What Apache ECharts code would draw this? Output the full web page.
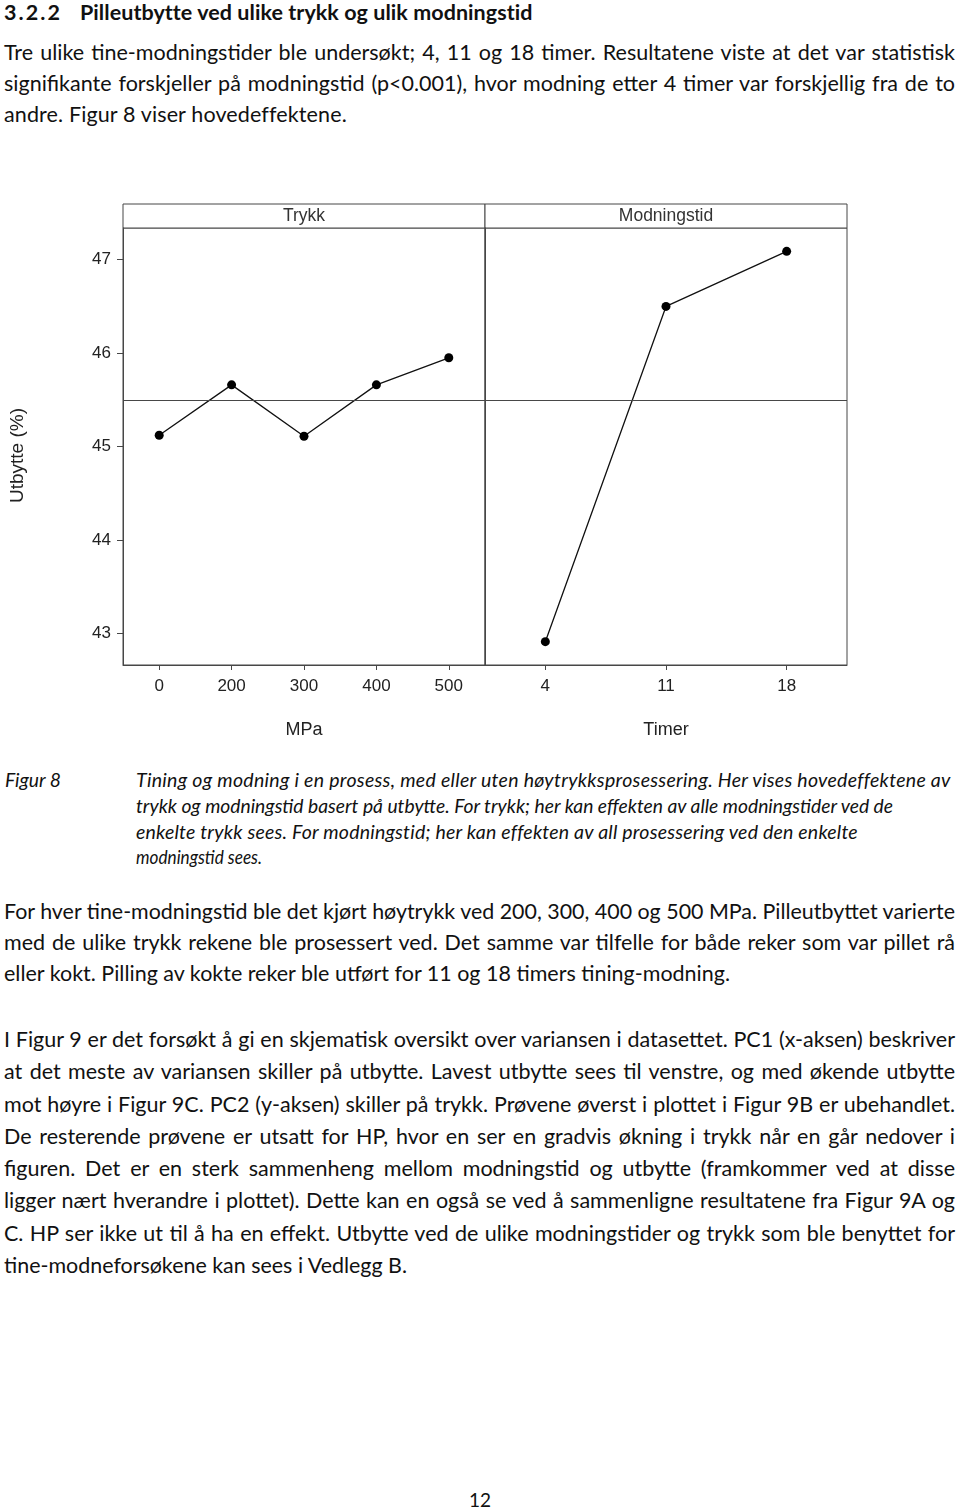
<!DOCTYPE html>
<html>
<head>
<meta charset="utf-8">
<script src="https://cdn.jsdelivr.net/npm/echarts@6/dist/echarts.min.js"></script>
<style>
  html, body { margin: 0; padding: 0; background: #fff; }
  body { width: 960px; height: 1509px; position: relative; overflow: hidden;
         font-family: "Lato", "Open Sans", sans-serif; color: #111; }
  .ln { position: absolute; white-space: nowrap; height: 30px; line-height: 30px; font-size: 21.5px; }
  .ln > span { white-space: nowrap; display: inline-block; transform-origin: 0 50%; }
  .cap { font-style: italic; font-size: 19.5px; height: 26px; line-height: 26px; }
  .hd { font-weight: bold; font-size: 21.5px; }
  #chart { position: absolute; left: 0; top: 190px; width: 870px; height: 560px; }
</style>
</head>
<body>
<!-- heading -->
<div class="ln hd" style="left:4px; top:-3px;" data-end="60"><span>3.2.2</span></div>
<div class="ln hd" style="left:80px; top:-3px;" data-end="532"><span>Pilleutbytte ved ulike trykk og ulik modningstid</span></div>

<!-- paragraph 1 -->
<div class="ln j" style="left:4px; top:37px;" data-end="955"><span>Tre ulike tine-modningstider ble undersøkt; 4, 11 og 18 timer. Resultatene viste at det var statistisk</span></div>
<div class="ln j" style="left:4px; top:68px;" data-end="955"><span>signifikante forskjeller på modningstid (p&lt;0.001), hvor modning etter 4 timer var forskjellig fra de to</span></div>
<div class="ln" style="left:4px; top:99px;" data-end="346"><span>andre. Figur 8 viser hovedeffektene.</span></div>

<div id="chart"></div>

<!-- caption -->
<div class="ln cap" style="left:5px; top:767px;" data-end="61"><span>Figur 8</span></div>
<div class="ln cap" style="left:136px; top:767px;" data-end="950"><span>Tining og modning i en prosess, med eller uten høytrykksprosessering. Her vises hovedeffektene av</span></div>
<div class="ln cap" style="left:136px; top:793px;" data-end="893"><span>trykk og modningstid basert på utbytte. For trykk; her kan effekten av alle modningstider ved de</span></div>
<div class="ln cap" style="left:136px; top:819px;" data-end="857"><span>enkelte trykk sees. For modningstid; her kan effekten av all prosessering ved den enkelte</span></div>
<div class="ln cap" style="left:136px; top:844px;" data-end="262"><span>modningstid sees.</span></div>

<!-- paragraph 2 -->
<div class="ln j" style="left:4px; top:896px;" data-end="955"><span>For hver tine-modningstid ble det kjørt høytrykk ved 200, 300, 400 og 500 MPa. Pilleutbyttet varierte</span></div>
<div class="ln j" style="left:4px; top:927px;" data-end="955"><span>med de ulike trykk rekene ble prosessert ved. Det samme var tilfelle for både reker som var pillet rå</span></div>
<div class="ln" style="left:4px; top:958px;" data-end="730"><span>eller kokt. Pilling av kokte reker ble utført for 11 og 18 timers tining-modning.</span></div>

<!-- paragraph 3 -->
<div class="ln j" style="left:4px; top:1024px;" data-end="955"><span>I Figur 9 er det forsøkt å gi en skjematisk oversikt over variansen i datasettet. PC1 (x-aksen) beskriver</span></div>
<div class="ln j" style="left:4px; top:1056px;" data-end="955"><span>at det meste av variansen skiller på utbytte. Lavest utbytte sees til venstre, og med økende utbytte</span></div>
<div class="ln j" style="left:4px; top:1089px;" data-end="955"><span>mot høyre i Figur 9C. PC2 (y-aksen) skiller på trykk. Prøvene øverst i plottet i Figur 9B er ubehandlet.</span></div>
<div class="ln j" style="left:4px; top:1121px;" data-end="955"><span>De resterende prøvene er utsatt for HP, hvor en ser en gradvis økning i trykk når en går nedover i</span></div>
<div class="ln j" style="left:4px; top:1153px;" data-end="955"><span>figuren. Det er en sterk sammenheng mellom modningstid og utbytte (framkommer ved at disse</span></div>
<div class="ln j" style="left:4px; top:1185px;" data-end="955"><span>ligger nært hverandre i plottet). Dette kan en også se ved å sammenligne resultatene fra Figur 9A og</span></div>
<div class="ln j" style="left:4px; top:1218px;" data-end="955"><span>C. HP ser ikke ut til å ha en effekt. Utbytte ved de ulike modningstider og trykk som ble benyttet for</span></div>
<div class="ln" style="left:4px; top:1250px;" data-end="407"><span>tine-modneforsøkene kan sees i Vedlegg B.</span></div>

<!-- page number -->
<div class="ln" style="left:440px; width:80px; text-align:center; top:1485px; font-size:19px;"><span>12</span></div>

<script>
// ---- data ----
const pressureCats = ['0', '200', '300', '400', '500'];
const pressureYield = [45.12, 45.66, 45.11, 45.66, 45.95];
const timeCats = ['4', '11', '18'];
const timeYield = [42.91, 46.50, 47.09];
const grandMean = [45.5];
const yTicks = [43, 44, 45, 46, 47];
const panelTitles = ['Trykk', 'Modningstid'];
const axisTitles = ['MPa', 'Timer'];
const yTitle = 'Utbytte (%)';

// ---- layout ----
const L = { left0: 123, left1: 485, top: 38, w: 362, h: 437, stripH: 24 };
const yMin = 42.66, yMax = 47.34;
const font = '"Liberation Sans", Arial, sans-serif';
const axisColor = '#474747';
const textColor = '#222';

const chart = echarts.init(document.getElementById('chart'), null, { renderer: 'canvas' });

function xAxis(idx, cats, name) {
  return {
    type: 'category', gridIndex: idx, data: cats, boundaryGap: true,
    name: name, nameLocation: 'middle', nameGap: 56,
    nameTextStyle: { fontFamily: font, fontSize: 18, color: textColor },
    axisLine: { show: true, lineStyle: { color: axisColor, width: 1 } },
    axisTick: { show: true, alignWithLabel: true, length: 5, lineStyle: { color: axisColor } },
    axisLabel: { fontFamily: font, fontSize: 17, color: textColor, margin: 13 },
    splitLine: { show: false }
  };
}
function yAxis(idx, showLabels) {
  return {
    type: 'value', gridIndex: idx, min: yMin, max: yMax,
    name: showLabels ? yTitle : '', nameLocation: 'middle', nameGap: 96, nameRotate: 90,
    nameTextStyle: { fontFamily: font, fontSize: 19, color: textColor, padding: [0, 18, 0, 0] },
    axisLine: { show: true, lineStyle: { color: axisColor, width: 1 } },
    axisTick: { show: showLabels, length: 6, customValues: yTicks, lineStyle: { color: axisColor } },
    axisLabel: { show: showLabels, fontFamily: font, fontSize: 17, color: textColor, margin: 12, customValues: yTicks },
    splitLine: { show: false }
  };
}
function lineSeries(idx, values) {
  return {
    type: 'line', xAxisIndex: idx, yAxisIndex: idx, data: values,
    symbol: 'circle', symbolSize: 9, showSymbol: true,
    lineStyle: { color: '#111', width: 1.3 },
    itemStyle: { color: '#000' },
    animation: false, silent: true,
    markLine: {
      silent: true, symbol: 'none', animation: false,
      label: { show: false },
      lineStyle: { color: axisColor, width: 1, type: 'solid' },
      data: grandMean.map(v => ({ yAxis: v }))
    }
  };
}

const strips = panelTitles.map((t, i) => {
  const x = i === 0 ? L.left0 : L.left1;
  return [
    { type: 'rect', shape: { x: x, y: L.top - L.stripH, width: L.w, height: L.stripH },
      style: { fill: '#fff', stroke: axisColor, lineWidth: 1 } },
    { type: 'text', x: x + L.w / 2, y: L.top - L.stripH / 2,
      style: { text: t, fontFamily: font, fontSize: 17.5, fill: '#333', align: 'center', verticalAlign: 'middle' } }
  ];
}).flat();

chart.setOption({
  animation: false,
  backgroundColor: '#fff',
  grid: [
    { left: L.left0, top: L.top, width: L.w, height: L.h, show: true, borderColor: axisColor, borderWidth: 1, containLabel: false },
    { left: L.left1, top: L.top, width: L.w, height: L.h, show: true, borderColor: axisColor, borderWidth: 1, containLabel: false }
  ],
  xAxis: [xAxis(0, pressureCats, axisTitles[0]), xAxis(1, timeCats, axisTitles[1])],
  yAxis: [yAxis(0, true), yAxis(1, false)],
  series: [lineSeries(0, pressureYield), lineSeries(1, timeYield)],
  graphic: strips
});

// fit page text lines to the original line ends
function fitLines() {
  document.querySelectorAll('.ln[data-end]').forEach(el => {
    const span = el.firstElementChild;
    const left = el.getBoundingClientRect().left;
    const target = parseFloat(el.dataset.end) - left;
    const w = span.getBoundingClientRect().width;
    const txt = span.textContent;
    const spaces = (txt.match(/ /g) || []).length;
    if (w > target) {
      span.style.transform = 'scaleX(' + (target / w) + ')';
    } else if (el.classList.contains('j') && spaces) {
      span.style.wordSpacing = ((target - w) / spaces) + 'px';
    } else {
      const n = txt.length - 1;
      if (n > 0) span.style.letterSpacing = ((target - w) / n) + 'px';
    }
  });
}
if (document.fonts && document.fonts.ready) { document.fonts.ready.then(fitLines); } else { fitLines(); }
</script>
</body>
</html>
